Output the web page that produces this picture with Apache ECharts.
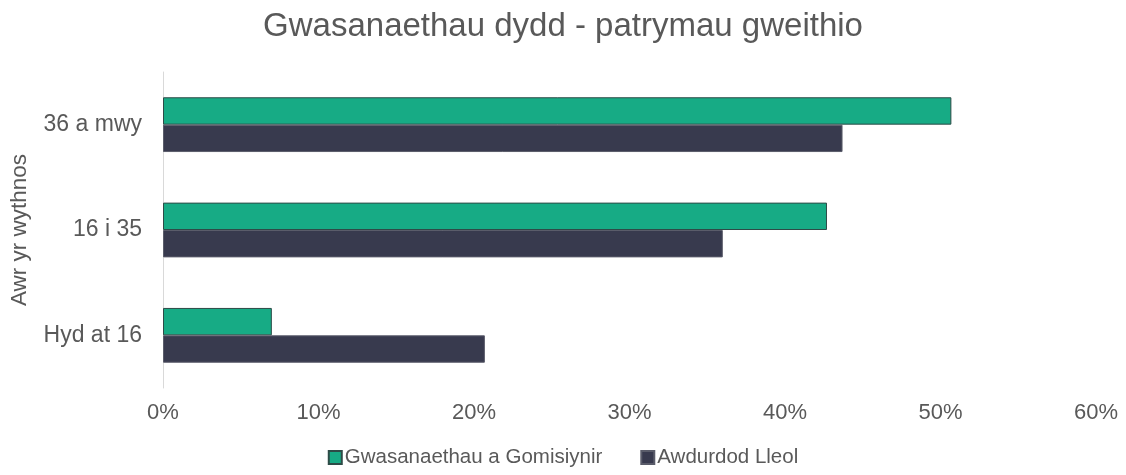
<!DOCTYPE html>
<html>
<head>
<meta charset="utf-8">
<script src="https://cdn.jsdelivr.net/npm/echarts@6/dist/echarts.min.js"></script>
<style>
  html, body { margin: 0; padding: 0; background: #fff; }
  #chart { width: 1126px; height: 475px; }
</style>
</head>
<body>
<div id="chart"></div>
<script>
// categories top to bottom
const categories = ["36 a mwy", "16 i 35", "Hyd at 16"]
const gomisiynir = [50.7, 42.7, 7.0]
const awdurdod = [43.7, 36.0, 20.7]
const tickLabels = ["0%", "10%", "20%", "30%", "40%", "50%", "60%"]

const textColor = "#595959"
const font = "Liberation Sans, Arial, sans-serif"

const chart = echarts.init(document.getElementById("chart"))
chart.setOption({
  animation: false,
  textStyle: { fontFamily: font },
  title: {
    text: "Gwasanaethau dydd - patrymau gweithio",
    left: "center",
    top: 5,
    textStyle: { color: textColor, fontSize: 33, fontWeight: "normal", fontFamily: font }
  },
  legend: {
    bottom: 2,
    left: "center",
    itemWidth: 13,
    itemHeight: 13,
    itemGap: 38,
    icon: "rect",
    textStyle: { color: textColor, fontSize: 20.5, fontFamily: font, padding: [0, 0, 0, -2] },
    data: ["Gwasanaethau a Gomisiynir", "Awdurdod Lleol"]
  },
  grid: { left: 161, right: 30, top: 72, bottom: 87 },
  xAxis: {
    type: "value",
    min: 0,
    max: 60,
    interval: 10,
    splitLine: { show: false },
    axisLine: { show: false },
    axisTick: { show: false },
    axisLabel: {
      color: textColor,
      fontSize: 22,
      margin: 14,
      formatter: v => tickLabels[v / 10]
    }
  },
  yAxis: {
    type: "category",
    inverse: true,
    data: categories,
    name: "Awr yr wythnos",
    nameLocation: "middle",
    nameRotate: 90,
    nameGap: 132,
    nameTextStyle: { color: textColor, fontSize: 22.5, fontFamily: font },
    axisLine: { show: true, lineStyle: { color: "#d9d9d9", width: 1 } },
    axisTick: { show: false },
    axisLabel: { color: textColor, fontSize: 23, margin: 21 }
  },
  series: [
    {
      name: "Gwasanaethau a Gomisiynir",
      type: "bar",
      data: gomisiynir,
      barCategoryGap: "48%",
      barGap: "0%",
      itemStyle: { color: "#17ab85", borderColor: "#2e4b47", borderWidth: 1 }
    },
    {
      name: "Awdurdod Lleol",
      type: "bar",
      data: awdurdod,
      barCategoryGap: "48%",
      barGap: "0%",
      itemStyle: { color: "#383a4e", borderColor: "#5a5c6a", borderWidth: 1 }
    }
  ]
})
window.addEventListener("resize", () => {
  chart.resize()
})
</script>
</body>
</html>
